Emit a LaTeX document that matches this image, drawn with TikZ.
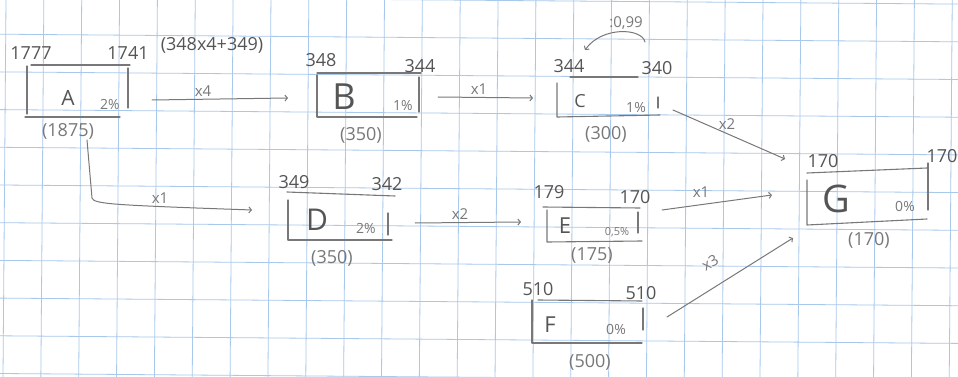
\documentclass[tikz,border=0pt]{standalone}
\usepackage{fontspec}
\setmainfont{Open Sans}
\usetikzlibrary{arrows.meta}
\definecolor{pencil}{RGB}{85,85,85}
\definecolor{softpencil}{RGB}{120,120,120}
\definecolor{gridblue}{RGB}{168,200,236}
\begin{document}
\begin{tikzpicture}[x=1pt,y=-1pt,
  num/.style={text=pencil, inner sep=0pt, font=\fontsize{18}{18}\selectfont},
  paren/.style={text=softpencil, inner sep=0pt, font=\fontsize{18}{18}\selectfont},
  pct/.style={text=softpencil, inner sep=0pt, font=\fontsize{14}{14}\selectfont},
  mult/.style={text=softpencil, inner sep=0pt, font=\fontsize{15}{15}\selectfont},
  letter/.style={text=pencil, inner sep=0pt, font=\fontsize{#1}{#1}\selectfont},
  boxline/.style={draw=softpencil, line width=1.1pt, line cap=round, line join=round},
  conn/.style={draw=softpencil, line width=1pt, line cap=round, -{Straight Barb[length=2.5pt,width=6pt]}},
  gridline/.style={draw=gridblue, line width=0.8pt},
]
\fill[white] (0,0) rectangle (958,377);
\useasboundingbox (0,0) rectangle (958,377);
% squared paper
\foreach \k in {0,...,10} {
  \draw[gridline] (0,{373.5-37.7*\k}) -- (958,{373.5-37.7*\k+7.6});
}
\foreach \k in {0,...,25} {
  \draw[gridline] ({6+37.85*\k},0) -- ({3+37.85*\k},377);
}

% ---- box A ----
\draw[boxline] (31,65) -- (130,65);
\draw[boxline] (27,66) -- (27,114) (25,117) -- (120,117);
\draw[boxline] (128,68) -- (128,108);
\node[letter=21] (A) at (68,98) {A};
\node[pct] (Ap) at (110,104) {2\%};
\node[num] (Ain) at (31,53) {1777};
\node[num] (Aout) at (128,53) {1741};
\node[num] (Acalc) at (212,45) {(348x4+349)};
\node[paren] (Acap) at (68,131) {(1875)};

% ---- box B ----
\draw[boxline] (317,73) -- (421,73);
\draw[boxline] (317,75) -- (317,117) -- (417,117);
\draw[boxline] (419,77) -- (419,112);
\node[letter=36] (B) at (344,97) {B};
\node[pct] (Bp) at (403,105) {1\%};
\node[num] (Bin) at (321,60) {348};
\node[num] (Bout) at (420,66) {344};
\node[paren] (Bcap) at (361,135) {(350)};

% ---- box C ----
\draw[boxline] (570,77) -- (638,77);
\draw[boxline] (557,83) -- (557,117) -- (660,115);
\draw[boxline] (658,97) -- (658,108);
\node[letter=18] (C) at (580,101) {C};
\node[pct] (Cp) at (636,107) {1\%};
\node[num] (Cin) at (569,66) {344};
\node[num] (Cout) at (657,68) {340};
\node[paren] (Ccap) at (606,134) {(300)};
\node[mult] (Cdiv) at (626,23) {:0,99};

% ---- box D ----
\draw[boxline] (287,192) -- (395,196);
\draw[boxline] (288,200) -- (288,240) -- (392,240);
\draw[boxline] (388,213) -- (388,235);
\node[letter=30] (D) at (317,220) {D};
\node[pct] (Dp) at (366,228) {2\%};
\node[num] (Din) at (294,182) {349};
\node[num] (Dout) at (387,184) {342};
\node[paren] (Dcap) at (332,258) {(350)};

% ---- box E ----
\draw[boxline] (543,207) -- (640,208);
\draw[boxline] (547,210) -- (547,242) -- (642,241);
\draw[boxline] (638,212) -- (638,233);
\node[letter=22] (E) at (565,226) {E};
\node[text=softpencil, inner sep=0pt, font=\fontsize{11}{11}\selectfont] (Ep) at (617,232) {0,5\%};
\node[num] (Ein) at (549,192) {179};
\node[num] (Eout) at (635,197) {170};
\node[paren] (Ecap) at (592,255) {(175)};

% ---- box F ----
\draw[boxline] (538,300) -- (642,301);
\draw[boxline] (532,300) -- (532,343) -- (642,343);
\draw[boxline] (643,308) -- (643,330);
\node[letter=22] (F) at (550,325) {F};
\node[pct] (Fp) at (616,329) {0\%};
\node[num] (Fin) at (538,289) {510};
\node[num] (Fout) at (641,293) {510};
\node[paren] (Fcap) at (590,362) {(500)};

% ---- box G ----
\draw[boxline] (807,173) -- (927,168);
\draw[boxline] (807,180) -- (807,225) -- (927,219);
\draw[boxline] (928,163) -- (928,210);
\node[letter=38] (G) at (836,199) {G};
\node[pct] (Gp) at (905,206) {0\%};
\node[num] (Gin) at (823,161) {170};
\node[num] (Gout) at (942,156) {170};
\node[paren] (Gcap) at (869,240) {(170)};

% ---- connector end points ----
\coordinate (AtoBs) at (152,100);
\coordinate (AtoBe) at (288,98);
\coordinate (BtoCs) at (438,97);
\coordinate (BtoCe) at (533,98);
\coordinate (CtoGs) at (673,110);
\coordinate (CtoGe) at (785,159);
\coordinate (AtoDs) at (87,140);
\coordinate (AtoDk) at (92,198);
\coordinate (AtoDe) at (252,210);
\coordinate (DtoEs) at (415,223);
\coordinate (DtoEe) at (521,222);
\coordinate (EtoGs) at (662,210);
\coordinate (EtoGe) at (772,195);
\coordinate (FtoGs) at (667,317);
\coordinate (FtoGe) at (793,238);
\coordinate (Cloops) at (645,42);
\coordinate (Cloope) at (585,50);

% ---- connectors ----
\draw[conn] (AtoBs) -- (AtoBe);
\node[mult] (mAB) at (203,91) {x4};
\draw[conn] (BtoCs) -- (BtoCe);
\node[mult] (mBC) at (479,89) {x1};
\draw[conn] (CtoGs) -- (CtoGe);
\node[mult] (mCG) at (727,124) {x2};
\draw[conn] (AtoDs) -- (AtoDk) .. controls (94,204) and (110,205) .. (AtoDe);
\node[mult] (mAD) at (160,198) {x1};
\draw[conn] (DtoEs) -- (DtoEe);
\node[mult] (mDE) at (460,214) {x2};
\draw[conn] (EtoGs) -- (EtoGe);
\node[mult] (mEG) at (701,192) {x1};
\draw[conn] (FtoGs) -- (FtoGe);
\node[mult, rotate=30] (mFG) at (710,263) {x3};
\draw[conn] (Cloops) .. controls (642,28) and (602,26) .. (Cloope);
\end{tikzpicture}
\end{document}
